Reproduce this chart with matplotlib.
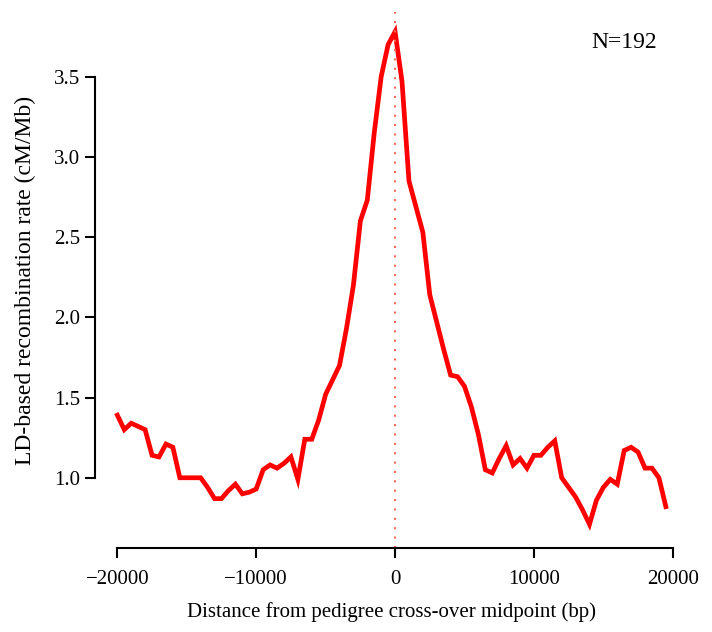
import numpy as np
import matplotlib
matplotlib.use("Agg")
import matplotlib.pyplot as plt

# distance from cross-over midpoint, 500 bp bins
distance = np.arange(-20000, 20000, 500)
rate = [1.39, 1.30, 1.34, 1.32, 1.30, 1.14, 1.13, 1.21, 1.19, 1.00,
        1.00, 1.00, 1.00, 0.94, 0.87, 0.87, 0.92, 0.96, 0.90, 0.91,
        0.93, 1.05, 1.08, 1.06, 1.09, 1.13, 0.99, 1.24, 1.24, 1.36,
        1.52, 1.61, 1.70, 1.93, 2.20, 2.60, 2.73, 3.15, 3.50, 3.70,
        3.78, 3.47, 2.85, 2.69, 2.53, 2.14, 1.97, 1.80, 1.64, 1.63,
        1.57, 1.44, 1.27, 1.05, 1.03, 1.12, 1.20, 1.08, 1.12, 1.06,
        1.14, 1.14, 1.19, 1.23, 1.00, 0.94, 0.88, 0.80, 0.71, 0.86,
        0.94, 0.99, 0.96, 1.17, 1.19, 1.16, 1.06, 1.06, 1.00, 0.82]
xticks = [-20000, -10000, 0, 10000, 20000]
yticks = [1.0, 1.5, 2.0, 2.5, 3.0, 3.5]
n_label = "N=192"

plt.rcParams['font.family'] = ['Liberation Serif', 'DejaVu Serif']
plt.rcParams['axes.unicode_minus'] = True

fig = plt.figure(figsize=(7.12, 6.32), dpi=100)
ax = fig.add_axes([0.134, 0.133, 0.832, 0.848])

ax.plot(distance, rate, color='red', lw=3.4, solid_joinstyle='miter')
ax.axvline(0, color='#f86a5a', lw=1.5, ls=(0, (1, 3.5)))

# R-style padding around the data
xr = distance[-1] - distance[0]
ax.set_xlim(distance[0] - 0.04 * xr, distance[-1] + 0.04 * xr)
yr = max(rate) - min(rate)
ax.set_ylim(min(rate) - 0.048 * yr, max(rate) + 0.04 * yr)

ax.set_xticks(xticks)
ax.set_yticks(yticks)
ax.set_yticklabels([f"{v:.1f}" for v in yticks])
ax.spines['top'].set_visible(False)
ax.spines['right'].set_visible(False)
ax.spines['left'].set_bounds(yticks[0], yticks[-1])
ax.spines['bottom'].set_bounds(xticks[0], xticks[-1])
for s in ('left', 'bottom'):
    ax.spines[s].set_linewidth(1.5)
ax.tick_params(length=7, width=1.5, labelsize=15, pad=4)
ax.tick_params(axis='x', pad=9)

ax.set_xlabel("Distance from pedigree cross-over midpoint (bp)", fontsize=15, labelpad=9)
ax.set_ylabel("LD-based recombination rate (cM/Mb)", fontsize=17, labelpad=13)
ax.text(16500, 3.71, n_label, fontsize=17, ha='center', va='center')

fig.savefig("out.png", dpi=100)
